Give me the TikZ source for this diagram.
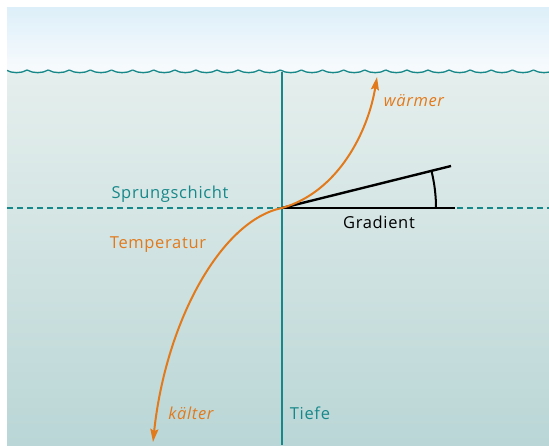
\documentclass[tikz,border=0pt]{standalone}
\usepackage{fontspec}
\setmainfont{Open Sans}
\usetikzlibrary{arrows.meta}
\definecolor{skytop}{HTML}{DDEFF9}
\definecolor{skybot}{HTML}{F8FBFD}
\definecolor{watertop}{HTML}{E5EFED}
\definecolor{waterbot}{HTML}{BAD6D6}
\definecolor{tealc}{HTML}{17888A}
\definecolor{orangec}{HTML}{E27A1C}
\tikzset{
  wave/.style={draw=tealc, line width=1.3pt},
  axisline/.style={draw=tealc, line width=2pt},
  layerline/.style={draw=tealc, line width=2pt, dash pattern=on 6pt off 4pt},
  gradline/.style={draw=black, line width=2.4pt},
  tempcurve/.style={draw=orangec, line width=2pt, -{Stealth[length=13pt,width=8pt,inset=2pt]}},
  lbl/.style={inner sep=0pt, anchor=base, font=\fontsize{16.5}{19}\selectfont\addfontfeature{LetterSpace=4}},
  ilbl/.style={inner sep=0pt, anchor=base, font=\fontsize{16.5}{19}\selectfont\itshape\addfontfeature{LetterSpace=4}},
}
\begin{document}
\begin{tikzpicture}[x=1pt,y=-1pt]
\useasboundingbox (0,0) rectangle (549,445);
\begin{scope}
\clip (7,7) rectangle (549,445);
\shade[top color=skytop, bottom color=skybot] (7,7) rectangle (549,72);
\shade[top color=watertop, bottom color=waterbot] (7,71.5) rectangle (549,445);
\foreach \i in {0,...,26} {
  \pgfmathsetmacro\xa{6+21.1*\i}
  \draw[wave] (\xa,70) .. controls (\xa+6,73.6) and (\xa+15.1,73.6) .. (\xa+21.1,70);
}
\coordinate (O) at (282,208);
\coordinate (axtop) at (282,72);
\coordinate (axbot) at (282,445);
\coordinate (dl) at (7,208);
\coordinate (dr) at (549,208);
\coordinate (gh) at (455,208);
\coordinate (gs) at (451,166);
\coordinate (wtip) at (377,77);
\coordinate (ktip) at (153,442);
\draw[layerline] (dl) -- (dr);
\draw[axisline] (axtop) -- (axbot);
\draw[gradline] (O) -- (gh);
\draw[gradline] (O) -- (gs);
\draw[draw=black, line width=2pt] (436,208) arc[start angle=0, end angle=-13.5, radius=154];
\draw[tempcurve] (O) .. controls (338,192) and (368,132) .. (wtip);
\draw[tempcurve] (O) .. controls (222,220) and (166,320) .. (ktip);
\node[lbl, text=tealc] (sprung) at (170,198) {Sprungschicht};
\node[lbl, text=black] (grad) at (379,228) {Gradient};
\node[lbl, text=orangec] (temp) at (158,248) {Temperatur};
\node[ilbl, text=orangec] (warm) at (414,106) {wärmer};
\node[ilbl, text=orangec] (kalt) at (191,419) {kälter};
\node[lbl, text=tealc] (tiefe) at (310,419) {Tiefe};
\end{scope}
\end{tikzpicture}
\end{document}
